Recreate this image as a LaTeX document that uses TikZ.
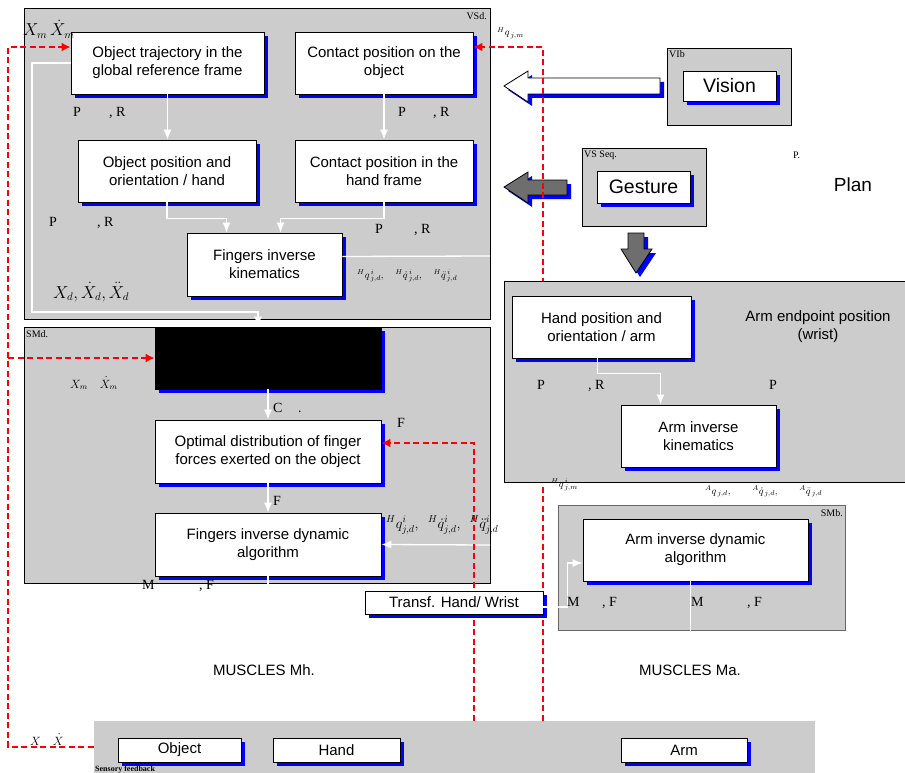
\documentclass[tikz,border=0pt]{standalone}
\usepackage{amsmath}
\usepackage{fontspec}
\setmainfont{Liberation Serif}
\setsansfont{Liberation Sans}
\usetikzlibrary{shapes,arrows,arrows.meta,shadows}
\definecolor{panelgray}{HTML}{CCCCCC}
\definecolor{arrowgray}{HTML}{6E6E6E}
\tikzstyle{panel} = [draw, fill=panelgray, line width=0.8pt]
\tikzstyle{block} = [draw, fill=white, rectangle, line width=0.8pt, align=center,
    inner sep=2pt, font=\sffamily\fontsize{15}{18}\selectfont,
    drop shadow={fill=blue, opacity=1, shadow xshift=4pt, shadow yshift=-4pt}]
\tikzstyle{bigblock} = [block, font=\sffamily\fontsize{19.5}{22}\selectfont]
\tikzstyle{blockarrow} = [draw, line width=0.8pt,
    drop shadow={fill=blue, opacity=1, shadow xshift=4pt, shadow yshift=-4pt}]
\tikzstyle{wire} = [draw=white, line width=1.3pt, >={Latex[length=10pt, width=8pt]}]
\tikzstyle{feedback} = [draw=red, line width=2.2pt, dash pattern=on 6pt off 3.5pt,
    >={Latex[length=9pt, width=9pt]}]
\tikzstyle{lbl} = [inner sep=0pt, font=\fontsize{14}{16}\selectfont]
\tikzstyle{tag} = [inner sep=0pt, font=\fontsize{10}{12}\selectfont]
\tikzstyle{caption} = [inner sep=0pt, align=center, font=\sffamily\fontsize{15}{18}\selectfont]

\begin{document}
\begin{tikzpicture}[x=1pt, y=-1pt]
          \useasboundingbox (0,0) rectangle (905,773);
          \clip (0,0) rectangle (905,773);

          % Panels
          \draw [panel] (24,8) rectangle (490,319);
          \draw [panel] (24,327) rectangle (490,583);
          \draw [panel] (667,48) rectangle (791,125);
          \draw [panel] (582,148) rectangle (706,226);
          \draw [panel, draw=black!60] (558,505) rectangle (845,630);
          \node [fill=panelgray, minimum width=721pt, minimum height=52pt] (sensory) at (454.5,747) {};

          % Place the blocks
          \node [block, minimum width=193pt, minimum height=62pt] (objtraj) at (167.5,63)
                {Object trajectory in the\\global reference frame};
          \node [block, minimum width=178pt, minimum height=62pt] (contobj) at (384,63)
                {Contact position on the\\object};
          \node [block, minimum width=178pt, minimum height=62pt] (objpos) at (167,171)
                {Object position and\\orientation / hand};
          \node [block, minimum width=178pt, minimum height=62pt] (conthand) at (384,171)
                {Contact position in the\\hand frame};
          \node [block, minimum width=155pt, minimum height=63pt] (fingik) at (264.5,264.5)
                {Fingers inverse\\kinematics};
          \node [block, fill=black, minimum width=226pt, minimum height=62pt] (blk) at (268,358) {};
          \node [block, minimum width=226pt, minimum height=63pt] (optdist) at (268,451.5)
                {Optimal distribution of finger\\forces exerted on the object};
          \node [block, minimum width=226pt, minimum height=63pt] (fingid) at (268,544.5)
                {Fingers inverse dynamic\\algorithm};
          \node [bigblock, minimum width=93pt, minimum height=30pt] (vision) at (729.5,86) {Vision};
          \node [bigblock, minimum width=93pt, minimum height=32pt] (gesture) at (643.5,187) {Gesture};
          \node [block, minimum width=225pt, minimum height=62pt] (armid) at (695.5,550)
                {Arm inverse dynamic\\algorithm};
          \node [block, minimum width=123pt, minimum height=24pt] (object) at (179.5,750) {Object};
          \node [block, minimum width=127pt, minimum height=24pt] (hand) at (336.5,750) {Hand};
          \node [block, minimum width=126pt, minimum height=24pt] (arm) at (684,750) {Arm};

          % Block arrows
          \draw [blockarrow, fill=white] (660,78) -- (528,78) -- (528,71) -- (504,86)
                -- (528,102) -- (528,94) -- (660,94) -- cycle;
          \draw [blockarrow, fill=arrowgray] (567,180) -- (528,180) -- (528,172) -- (504,187)
                -- (528,203) -- (528,195) -- (567,195) -- cycle;
          \draw [blockarrow, fill=arrowgray] (628,233) -- (628,249) -- (621,249) -- (636,273)
                -- (652,249) -- (644,249) -- (644,233) -- cycle;

          % Connections
          \coordinate (qout) at (490,256);
          \coordinate (qin) at (490,545);
          \draw [wire, ->] (objtraj.south) -- (objtraj.south |- objpos.north);
          \draw [wire, ->] (contobj.south) -- (contobj.south |- conthand.north);
          \draw [wire, ->] (objpos.south) -- ++(0,16) -| ([xshift=-38pt]fingik.north);
          \draw [wire, ->] (conthand.south) -- ++(0,16) -| ([xshift=16pt]fingik.north);
          \draw [wire] ([yshift=8pt]fingik.east) -- (qout);
          \draw [wire, ->] (objtraj.west) -- (32,63) -- (32,312) -| ([xshift=-10pt]blk.north);
          \draw [wire, ->] (blk.south) -- (optdist.north);
          \draw [wire, ->] (optdist.south) -- (fingid.north);
          \draw [wire, ->] (qin) -- (fingid.east);
          \draw [wire] (fingid.south) -- ++(0,8);
          \draw [wire] ([xshift=-5pt]armid.south) -- ++(0,52);

          % Sensory feedback
          \draw [feedback, ->] (sensory.west) -- (8,747) |- ([yshift=16pt]objtraj.west);
          \draw [feedback, ->] (8,358) -- (blk.west);
          \draw [feedback, ->] (sensory.north -| 543,0) |- ([yshift=16pt]contobj.east);
          \draw [feedback, ->] (sensory.north -| 474,0) |- ([yshift=8.5pt]optdist.east);

          % Arm level
          \draw [panel] (504,281) rectangle (910,482);
          \node [block, minimum width=179pt, minimum height=62pt] (handpos) at (601.5,327)
                {Hand position and\\orientation / arm};
          \node [block, minimum width=155pt, minimum height=62pt] (armik) at (698.5,436)
                {Arm inverse\\kinematics};
          \draw [wire, ->] ([xshift=-4pt]handpos.south) -- ++(0,15) -| ([xshift=-38pt]armik.north);
          \node [block, font=\sffamily\fontsize{15}{17}\selectfont, minimum width=178pt,
                minimum height=23pt, inner sep=0pt] (transf) at (454,602.5) {Transf. Hand/ Wrist};
          \draw [wire, ->] ([yshift=-4.5pt]transf.east) -- ++(24,0) |- ([yshift=-13pt]armid.west);

          % Texts
          \node [caption] at (818,327) {Arm endpoint position\\(wrist)};
          \node [caption] at (264,670) {MUSCLES Mh.};
          \node [caption] at (690,670) {MUSCLES Ma.};
          \node [caption, font=\sffamily\fontsize{19}{22}\selectfont] at (853,185) {Plan};
          \node [tag, anchor=north east] at (487,12) {VSd.};
          \node [tag, anchor=north west] at (26,330) {SMd.};
          \node [tag, anchor=north west] at (669,50) {VIb};
          \node [tag, anchor=north west] at (584,151) {VS Seq.};
          \node [tag, anchor=north east] at (843,509) {SMb.};
          \node [tag, anchor=base west] at (793,158) {P.};
          \node [tag, anchor=base west, font=\bfseries\fontsize{8}{9}\selectfont] at (95,771) {Sensory feedback};

          \node [lbl, anchor=base west] at (73,117) {P};
          \node [lbl, anchor=base west] at (109,117) {, R};
          \node [lbl, anchor=base west] at (398,117) {P};
          \node [lbl, anchor=base west] at (433,117) {, R};
          \node [lbl, anchor=base west] at (49,226) {P};
          \node [lbl, anchor=base west] at (97,226) {, R};
          \node [lbl, anchor=base west] at (375,233) {P};
          \node [lbl, anchor=base west] at (414,233) {, R};
          \node [lbl, anchor=base west] at (537,389) {P};
          \node [lbl, anchor=base west] at (588,389) {, R};
          \node [lbl, anchor=base west] at (769,389) {P};
          \node [lbl, anchor=base west] at (273,412) {C};
          \node [lbl, anchor=base west] at (298,412) {.};
          \node [lbl, anchor=base west] at (397,427) {F};
          \node [lbl, anchor=base west] at (273,505) {F};
          \node [lbl, anchor=base west] at (142,589) {M};
          \node [lbl, anchor=base west] at (199,589) {, F};
          \node [lbl, anchor=base west] at (567,606) {M};
          \node [lbl, anchor=base west] at (602,606) {, F};
          \node [lbl, anchor=base west] at (691,606) {M};
          \node [lbl, anchor=base west] at (747,606) {, F};

          \node [lbl, anchor=base west, font=\fontsize{16}{18}\selectfont] at (23,36) {$X_m\,\dot{X}_m$};
          \node [lbl, anchor=base west, font=\fontsize{16}{18}\selectfont] at (53,298) {$X_d,\dot{X}_d,\ddot{X}_d$};
          \node [lbl, anchor=base west, font=\fontsize{12}{14}\selectfont] at (70,388) {$X_m\quad\dot{X}_m$};
          \node [lbl, anchor=base west, font=\fontsize{12}{14}\selectfont] at (30,745) {$X\quad\dot{X}$};
          \node [lbl, anchor=base west] at (386,528)
                {${}^{H}q^{i}_{j,d},\ \ {}^{H}\dot{q}^{i}_{j,d},\ \ {}^{H}\ddot{q}^{i}_{j,d}$};
          \node [tag, anchor=base west] at (357,278)
                {${}^{H}q^{\,i}_{\,j,d},\quad{}^{H}\dot{q}^{\,i}_{\,j,d},\quad{}^{H}\ddot{q}^{\,i}_{\,j,d}$};
          \node [tag, anchor=base west] at (497,36) {${}^{H}q_{\,j,m}$};
          \node [tag, anchor=base west] at (551,487) {${}^{H}q^{\,i}_{\,j,m}$};
          \node [tag, anchor=base west] at (705,494)
                {${}^{A}q_{\,j,d},\qquad{}^{A}\dot{q}_{\,j,d},\qquad{}^{A}\ddot{q}_{\,j,d}$};
      \end{tikzpicture}
\end{document}
